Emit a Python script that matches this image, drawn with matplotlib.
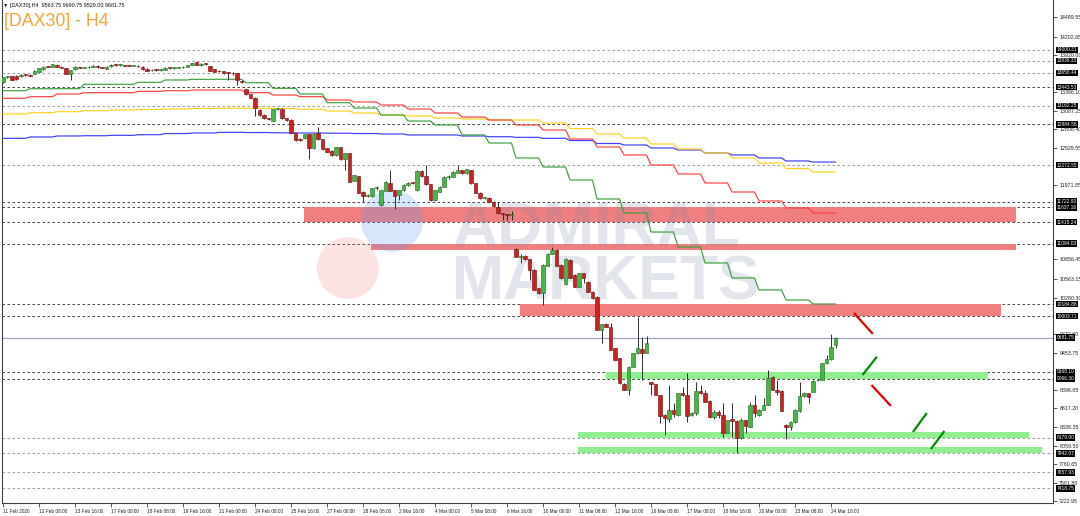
import numpy as np
import matplotlib
matplotlib.use("Agg")
import matplotlib.pyplot as plt
from matplotlib.patches import Rectangle, Ellipse
from matplotlib import font_manager as fm

plt.rcParams['font.family'] = ['Liberation Sans', 'DejaVu Sans']

# ---------------- data ----------------
x_tick_bars = list(range(0, 185, 8))
x_tick_labels = ["11 Feb 2020", "12 Feb 08:00", "13 Feb 16:00", "17 Feb 00:00", "18 Feb 08:00",
                 "19 Feb 16:00", "21 Feb 00:00", "24 Feb 08:00", "25 Feb 16:00", "27 Feb 00:00",
                 "28 Feb 08:00", "2 Mar 16:00", "4 Mar 00:00", "5 Mar 08:00", "6 Mar 16:00",
                 "10 Mar 00:00", "11 Mar 08:00", "12 Mar 16:00", "16 Mar 00:00", "17 Mar 08:00",
                 "18 Mar 16:00", "20 Mar 00:00", "23 Mar 08:00", "24 Mar 16:00"]

opens = [13520, 13590, 13605, 13610, 13605, 13630, 13628, 13640, 13676, 13712,
         13750, 13750, 13776, 13750, 13726, 13640, 13708, 13740, 13735, 13740,
         13750, 13760, 13742, 13716, 13755, 13775, 13771, 13776, 13765, 13762,
         13765, 13750, 13720, 13694, 13700, 13698, 13700, 13733, 13728, 13730,
         13738, 13752, 13775, 13815, 13775, 13790, 13760, 13710, 13685, 13685,
         13660, 13655, 13650, 13535, 13415, 13335, 13285, 13100, 13025, 12975,
         12940, 13110, 13115, 12975, 12955, 12750, 12665, 12674, 12739, 12524,
         12749, 12659, 12524, 12489, 12424, 12539, 12359, 12449, 12039, 12109,
         11874, 11815, 11809, 11924, 11674, 11889, 12009, 11899, 11824, 11899,
         11974, 12009, 11899, 12189, 12109, 11984, 11749, 11874, 11949, 12099,
         12099, 12159, 12199, 12149, 12199, 11999, 11859, 11780, 11784, 11724,
         11649, 11545, 11530, 11524, 11007, 10897, 10907, 10857, 10697, 10422,
         10347, 10757, 10937, 10997, 10774, 10480, 10850, 10620, 10447, 10647,
         10522, 10372, 10297, 9797, 9882, 9847, 9522, 9372, 8987, 8897,
         9247, 9447, 9507, 9457, 9015, 8985, 8820, 8515, 8465, 8595,
         8520, 8855, 8820, 8520, 8545, 8880, 8845, 8735, 8495, 8570,
         8520, 8255, 8455, 8430, 8170, 8445, 8345, 8670, 8520, 8595,
         8670, 9085, 8895, 8880, 8370, 8345, 8410, 8585, 8810, 8845,
         8870, 9040, 9045, 9297, 9357, 9563.75]
highs = [13595, 13615, 13612, 13618, 13640, 13642, 13636, 13696, 13730, 13756,
         13758, 13790, 13790, 13760, 13732, 13706, 13756, 13748, 13748, 13760,
         13770, 13768, 13750, 13756, 13786, 13786, 13788, 13781, 13775, 13772,
         13770, 13755, 13726, 13712, 13715, 13720, 13741, 13741, 13740, 13748,
         13758, 13782, 13810, 13820, 13798, 13800, 13765, 13715, 13695, 13690,
         13665, 13665, 13655, 13545, 13420, 13345, 13290, 13110, 13035, 12985,
         13120, 13125, 13125, 12985, 12965, 12755, 12680, 12745, 12745, 12750,
         12849, 12665, 12530, 12495, 12545, 12545, 12455, 12455, 12130, 12115,
         11880, 11840, 11930, 11960, 11905, 12030, 12199, 11905, 11905, 11990,
         12020, 12020, 12195, 12195, 12274, 11990, 11905, 11955, 12105, 12130,
         12180, 12274, 12205, 12215, 12205, 12005, 11865, 11800, 11790, 11730,
         11724, 11560, 11535, 11590, 11022, 10930, 10915, 10865, 10705, 10430,
         10780, 10945, 11047, 11010, 10780, 10880, 10860, 10630, 10655, 10655,
         10530, 10380, 10305, 9890, 9895, 9897, 9530, 9380, 8995, 9255,
         9455, 9997, 9697, 9707, 9020, 8990, 8825, 8530, 8970, 8705,
         8855, 8935, 9145, 8570, 9020, 8970, 8895, 8740, 8600, 8600,
         8695, 8450, 8695, 8440, 8470, 8450, 8720, 8820, 8605, 8770,
         9195, 9100, 9045, 8890, 8380, 8430, 8605, 9020, 8860, 8850,
         9045, 9060, 9300, 9422, 9732, 9690.75]
lows = [13505, 13580, 13545, 13550, 13598, 13615, 13605, 13634, 13670, 13704,
        13740, 13745, 13745, 13724, 13635, 13550, 13704, 13728, 13728, 13734,
        13744, 13736, 13728, 13710, 13750, 13765, 13765, 13759, 13755, 13755,
        13748, 13705, 13685, 13680, 13690, 13690, 13695, 13720, 13720, 13725,
        13735, 13748, 13770, 13770, 13765, 13780, 13685, 13670, 13670, 13645,
        13550, 13630, 13475, 13510, 13330, 13280, 13015, 13015, 12965, 12955,
        12930, 13095, 12968, 12940, 12750, 12640, 12640, 12665, 12359, 12515,
        12650, 12500, 12465, 12415, 12410, 12350, 12199, 12015, 12030, 11850,
        11724, 11800, 11800, 11900, 11659, 11880, 11880, 11609, 11749, 11890,
        11965, 11985, 11890, 12100, 11975, 11740, 11740, 11865, 11940, 12060,
        12090, 12150, 12140, 12140, 11990, 11850, 11765, 11770, 11715, 11650,
        11540, 11449, 11449, 11449, 10890, 10797, 10850, 10547, 10390, 10340,
        10172, 10750, 10930, 10750, 10565, 10470, 10570, 10435, 10440, 10500,
        10365, 10265, 9790, 9597, 9840, 9490, 9340, 8990, 8890, 8822,
        9240, 9440, 9047, 9450, 8820, 8815, 8395, 8220, 8420, 8495,
        8510, 8810, 8420, 8510, 8520, 8830, 8710, 8480, 8455, 8480,
        8195, 8250, 8195, 7945, 8165, 8245, 8340, 8495, 8510, 8590,
        8665, 8890, 8820, 8580, 8155, 8300, 8400, 8570, 8790, 8695,
        8860, 9025, 9040, 9290, 9350, 9529.00]
closes = [13590, 13605, 13555, 13560, 13630, 13625, 13612, 13690, 13725, 13750,
          13746, 13785, 13750, 13730, 13640, 13700, 13750, 13735, 13739, 13751,
          13762, 13742, 13737, 13750, 13775, 13771, 13778, 13765, 13761, 13766,
          13755, 13710, 13690, 13700, 13697, 13712, 13735, 13728, 13731, 13740,
          13752, 13775, 13800, 13775, 13790, 13787, 13690, 13675, 13680, 13650,
          13655, 13650, 13550, 13520, 13335, 13285, 13125, 13025, 12975, 12968,
          13110, 13112, 12975, 12950, 12760, 12650, 12655, 12739, 12524, 12739,
          12659, 12509, 12474, 12424, 12539, 12359, 12449, 12024, 12124, 11859,
          11809, 11825, 11924, 11930, 11899, 12024, 11889, 11809, 11899, 11974,
          12009, 11999, 12189, 12109, 11984, 11749, 11899, 11949, 12099, 12110,
          12174, 12199, 12149, 12209, 11999, 11859, 11774, 11790, 11724, 11659,
          11549, 11539, 11524, 11530, 10897, 10902, 10857, 10697, 10397, 10347,
          10772, 10937, 10997, 10757, 10574, 10865, 10575, 10447, 10647, 10572,
          10372, 10272, 9797, 9882, 9847, 9497, 9347, 8997, 8897, 9247,
          9447, 9522, 9447, 9607, 8985, 8820, 8505, 8470, 8595, 8535,
          8845, 8815, 8505, 8555, 8880, 8845, 8720, 8495, 8570, 8520,
          8255, 8445, 8430, 8170, 8445, 8355, 8670, 8555, 8595, 8670,
          9070, 8895, 8870, 8585, 8345, 8420, 8595, 8805, 8845, 8795,
          9035, 9045, 9295, 9357, 9547, 9681.75]

bars_per_day = 6
ma_green_daily = [13389, 13419, 13419, 13485, 13485, 13515, 13550, 13560, 13560, 13509,
                  13425, 13340, 13209, 13129, 13024, 12934, 12874, 12724, 12604, 12379,
                  12243, 12048, 11763, 11553, 11267, 11042, 10802, 10577, 10397, 10246, 10186]
ma_red_daily = [13275, 13299, 13340, 13359, 13359, 13380, 13389, 13400, 13400, 13359,
                13324, 13299, 13249, 13219, 13174, 13114, 13054, 12994, 12949, 12874,
                12799, 12664, 12544, 12424, 12273, 12138, 12003, 11868, 11733, 11628, 11553]
ma_yellow_daily = [13039, 13059, 13074, 13089, 13099, 13107, 13114, 13122, 13125, 13125,
                   13122, 13110, 13084, 13054, 13024, 13009, 12979, 12964, 12949, 12949,
                   12904, 12821, 12739, 12679, 12589, 12514, 12454, 12379, 12303, 12221, 12168]
ma_blue_daily = [12674, 12694, 12709, 12713, 12719, 12728, 12746, 12754, 12764, 12761,
                 12757, 12754, 12751, 12746, 12739, 12724, 12724, 12709, 12698, 12689,
                 12674, 12641, 12596, 12574, 12529, 12499, 12454, 12424, 12379, 12334, 12318]

level_prices = [14000.31, 13836.33, 13658.44, 13443.53, 13162.25, 12884.58, 12272.55,
                11722.90, 11637.16, 11415.24, 11094.03, 10184.88, 10003.71,
                9168.10, 9066.30, 8179.00, 7942.07, 7657.93, 7418.75]
level_dark = [False, False, False, True, False, True, False,
              True, True, True, True, True, True,
              True, True, False, False, False, False]
current_price = 9681.75

y_tick_labels = ["14489.55", "14202.65", "13920.00", "13366.10", "13087.25", "12808.40",
                 "12529.55", "11971.85", "10856.45", "10563.15", "10280.30", "9732.60",
                 "9453.75", "8896.05", "8617.20", "8338.35", "8059.50", "7780.65",
                 "7501.80", "7222.95"]

# zones: (first bar, last bar, low price, high price, kind)
zone_start = [66.9, 81.8, 114.9, 134.0, 127.8, 127.8]
zone_end = [225.1, 225.1, 221.8, 218.9, 228.0, 230.9]
zone_low = [11415.24, 11000.0, 10003.71, 9066.30, 8180.0, 7950.0]
zone_high = [11637.16, 11094.03, 10184.88, 9168.10, 8265.0, 8045.0]
zone_kind = ["sell", "sell", "sell", "buy", "buy", "buy"]

# projected path strokes
sig_x0 = [189.1, 191.0, 193.0, 202.2, 206.2]
sig_p0 = [10051, 9120, 8970, 8264, 8009]
sig_x1 = [193.3, 194.2, 197.3, 205.3, 209.2]
sig_p1 = [9736, 9395, 8655, 8550, 8279]
sig_kind = ["down", "up", "down", "up", "up"]

header = "\u25bc [DAX30],H4  9563.75 9690.75 9529.00 9681.75"
title = "[DAX30] - H4"

# ---------------- figure ----------------
W, H = 1080, 516
fig = plt.figure(figsize=(W / 100, H / 100), dpi=100)
fig.patch.set_facecolor('white')
ax = fig.add_axes([2 / W, 13 / H, 1051 / W, 503 / H])
ax.set_facecolor('white')
ax.set_xlim(-0.222, 233.33)
ax.set_ylim(7198.0, 14751.0)

ax.spines['top'].set_visible(False)
for s in ['left', 'right', 'bottom']:
    ax.spines[s].set_color('#404040')
    ax.spines[s].set_linewidth(0.8)

# level lines
for p, dark in zip(level_prices, level_dark):
    ax.axhline(p, color='#4a4a4a' if dark else '#a0a0a0', lw=0.72,
               ls=(0, (2.5, 2.5)), zorder=1)
ax.axhline(current_price, color='#9aa3c0', lw=0.9, zorder=1)

# zones
for x0, x1, lo, hi, kind in zip(zone_start, zone_end, zone_low, zone_high, zone_kind):
    ax.add_patch(Rectangle((x0, lo), x1 - x0, hi - lo,
                           facecolor='#F08080' if kind == 'sell' else '#90EE90',
                           edgecolor='none', zorder=2))

# watermark
names = {f.name for f in fm.fontManager.ttflist}
if 'Liberation Sans Narrow' in names:
    wm_family, wm_size = 'Liberation Sans Narrow', 53
else:
    wm_family, wm_size = 'Liberation Sans', 45
ax.add_patch(Ellipse((0.371, 0.561), 62 / 1051, 62 / 503, transform=ax.transAxes,
                     facecolor=(0.35, 0.6, 0.95), alpha=0.24, edgecolor='none', zorder=3))
ax.add_patch(Ellipse((0.329, 0.467), 62 / 1051, 62 / 503, transform=ax.transAxes,
                     facecolor=(0.95, 0.4, 0.4), alpha=0.18, edgecolor='none', zorder=3))
for txt, yb in [("ADMIRAL", 1 - 246 / 503), ("MARKETS", 1 - 300 / 503)]:
    ax.text((452 - 2) / 1051, yb, txt, transform=ax.transAxes, family=wm_family,
            fontsize=wm_size, fontweight='bold', color=(0.45, 0.5, 0.65), alpha=0.2,
            ha='left', va='baseline', zorder=3)

# moving averages (daily values shown on H4 bars)
x = np.arange(len(opens))
for daily, col in [(ma_blue_daily, '#3c3cff'), (ma_yellow_daily, '#ffd21e'),
                   (ma_red_daily, '#ff4040'), (ma_green_daily, '#3ca03c')]:
    vals = np.repeat(np.array(daily, dtype=float), bars_per_day)[:len(x)]
    ax.plot(x, vals, color=col, lw=0.85, zorder=4)

# candles
o = np.array(opens, dtype=float)
h = np.array(highs, dtype=float)
l = np.array(lows, dtype=float)
c = np.array(closes, dtype=float)
up = c >= o
ax.vlines(x, l, h, color='#303030', lw=0.7, zorder=5)
body_lo = np.minimum(o, c)
body_h = np.maximum(np.abs(c - o), 12)
ax.bar(x, body_h, bottom=body_lo, width=0.72,
       color=np.where(up, '#46b446', '#c82323'),
       edgecolor=np.where(up, '#206a20', '#6e0c0c'), linewidth=0.4, zorder=6)

# projected path strokes
for a0, p0, a1, p1, kind in zip(sig_x0, sig_p0, sig_x1, sig_p1, sig_kind):
    ax.plot([a0, a1], [p0, p1], color='#e60000' if kind == 'down' else '#008c00',
            lw=1.6, solid_capstyle='butt', zorder=7)

# x axis
ax.set_xticks(x_tick_bars)
ax.set_xticklabels(x_tick_labels, fontsize=3.4, ha='left', color='#202020')
ax.tick_params(axis='x', length=3, width=0.6, pad=1.0, color='#404040')

# y axis on right
ytv = [float(s) for s in y_tick_labels]
ax.yaxis.set_ticks_position('right')
ax.set_yticks(ytv)
ax.set_yticklabels(y_tick_labels, fontsize=3.8, color='#202020')
ax.tick_params(axis='y', length=3, width=0.6, pad=1.5, color='#404040',
               labelright=True, labelleft=False)

for p in level_prices + [current_price]:
    ax.annotate("%.2f" % p, xy=(1, p), xycoords=('axes fraction', 'data'),
                xytext=(3.5, 0), textcoords='offset pixels', fontsize=3.5,
                color='white', ha='left', va='center', zorder=10,
                bbox=dict(boxstyle='square,pad=0.15', fc='black', ec='none'),
                annotation_clip=False)

# header and title
fig.text(3 / W, 1 - 5 / H, header, fontsize=3.9, color='#101010', ha='left', va='center')
fig.text(4 / W, 1 - 21.5 / H, title, fontsize=12.8, color='#F7A43A', ha='left', va='center',
         family='Liberation Sans')

fig.savefig('out.png', dpi=100, facecolor='white')
